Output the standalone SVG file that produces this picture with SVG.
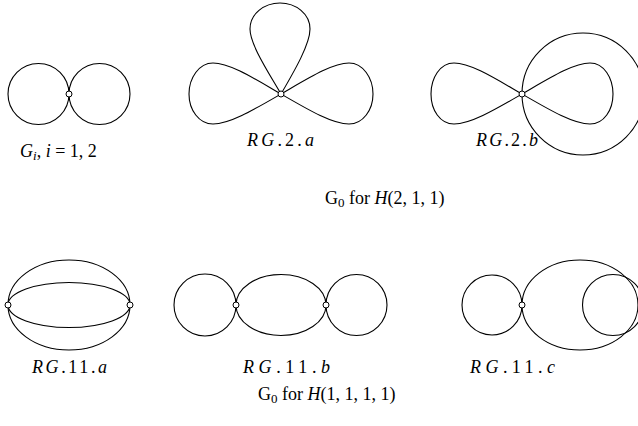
<svg xmlns="http://www.w3.org/2000/svg" width="638" height="426" viewBox="0 0 638 426">
<style>
.e{fill:none;stroke:#000;stroke-width:1.1}
.v{fill:#fff;stroke:#000;stroke-width:1}
text{font-family:"Liberation Serif",serif;font-size:18px;fill:#000}
.i{font-style:italic}
</style>
<rect width="638" height="426" fill="#fff"/>
<g id="connectors">
<circle class="e" cx="38.5" cy="94" r="30.5"/>
<circle class="e" cx="99.5" cy="94" r="30.5"/>
<path class="e" d="M281,94 C255,79 230,63 213,63 C199,63 189,78 189,94 C189,110 199,124 213,124 C230,124 255,109 281,94 Z"/>
<path class="e" d="M281,94 C307,79 332,63 349,63 C363,63 373,78 373,94 C373,110 363,124 349,124 C332,124 307,109 281,94 Z"/>
<path class="e" d="M281,94 C267,70 250,44 250,29 C250,14 264,3 280,3 C296,3 310,14 310,29 C310,44 295,70 281,94 Z"/>
<path class="e" d="M522,94 C496,79 471,63 454,63 C440,63 431,78 431,94 C431,110 440,124 454,124 C471,124 496,109 522,94 Z"/>
<path class="e" d="M522,94 C548,79 573,63 590,63 C604,63 613,78 613,94 C613,110 604,124 590,124 C573,124 548,109 522,94 Z"/>
<circle class="e" cx="583" cy="94" r="61"/>
<ellipse class="e" cx="69" cy="305" rx="61" ry="45"/>
<ellipse class="e" cx="69" cy="305" rx="61" ry="22.5"/>
<circle class="e" cx="205" cy="305" r="31"/>
<ellipse class="e" cx="281" cy="305" rx="45" ry="30.5"/>
<circle class="e" cx="356.5" cy="305" r="30.5"/>
<circle class="e" cx="492" cy="305" r="30"/>
<ellipse class="e" cx="580" cy="305" rx="58" ry="45"/>
<circle class="e" cx="613" cy="305" r="30.5"/>
</g>
<g id="node-Gi"><circle class="v" cx="69" cy="94" r="3"/></g>
<g id="node-RG2a"><circle class="v" cx="281" cy="94" r="3"/></g>
<g id="node-RG2b"><circle class="v" cx="522" cy="94" r="3"/></g>
<g id="node-RG11a"><circle class="v" cx="8" cy="305" r="3"/><circle class="v" cx="130" cy="305" r="3"/></g>
<g id="node-RG11b"><circle class="v" cx="236" cy="305" r="3"/><circle class="v" cx="326" cy="305" r="3"/></g>
<g id="node-RG11c"><circle class="v" cx="522" cy="305" r="3"/></g>
<g id="labels">
<text x="20" y="157"><tspan class="i">G</tspan><tspan class="i" font-size="13" dy="3">i</tspan><tspan dy="-3">, </tspan><tspan class="i">i</tspan> = 1, 2</text>
<text x="247" y="146" textLength="67" lengthAdjust="spacing"><tspan class="i">RG</tspan>.2.<tspan class="i">a</tspan></text>
<text x="476" y="146" textLength="62" lengthAdjust="spacing"><tspan class="i">RG</tspan>.2.<tspan class="i">b</tspan></text>
<text x="325" y="204">G<tspan font-size="13" dy="3">0</tspan><tspan dy="-3"> for </tspan><tspan class="i">H</tspan>(2, 1, 1)</text>
<text x="32" y="373" textLength="75" lengthAdjust="spacing"><tspan class="i">RG</tspan>.11.<tspan class="i">a</tspan></text>
<text x="243" y="373" textLength="87" lengthAdjust="spacing"><tspan class="i">RG</tspan>.11.<tspan class="i">b</tspan></text>
<text x="470" y="373" textLength="85" lengthAdjust="spacing"><tspan class="i">RG</tspan>.11.<tspan class="i">c</tspan></text>
<text x="258" y="400">G<tspan font-size="13" dy="3">0</tspan><tspan dy="-3"> for </tspan><tspan class="i">H</tspan>(1, 1, 1, 1)</text>
</g>
</svg>
